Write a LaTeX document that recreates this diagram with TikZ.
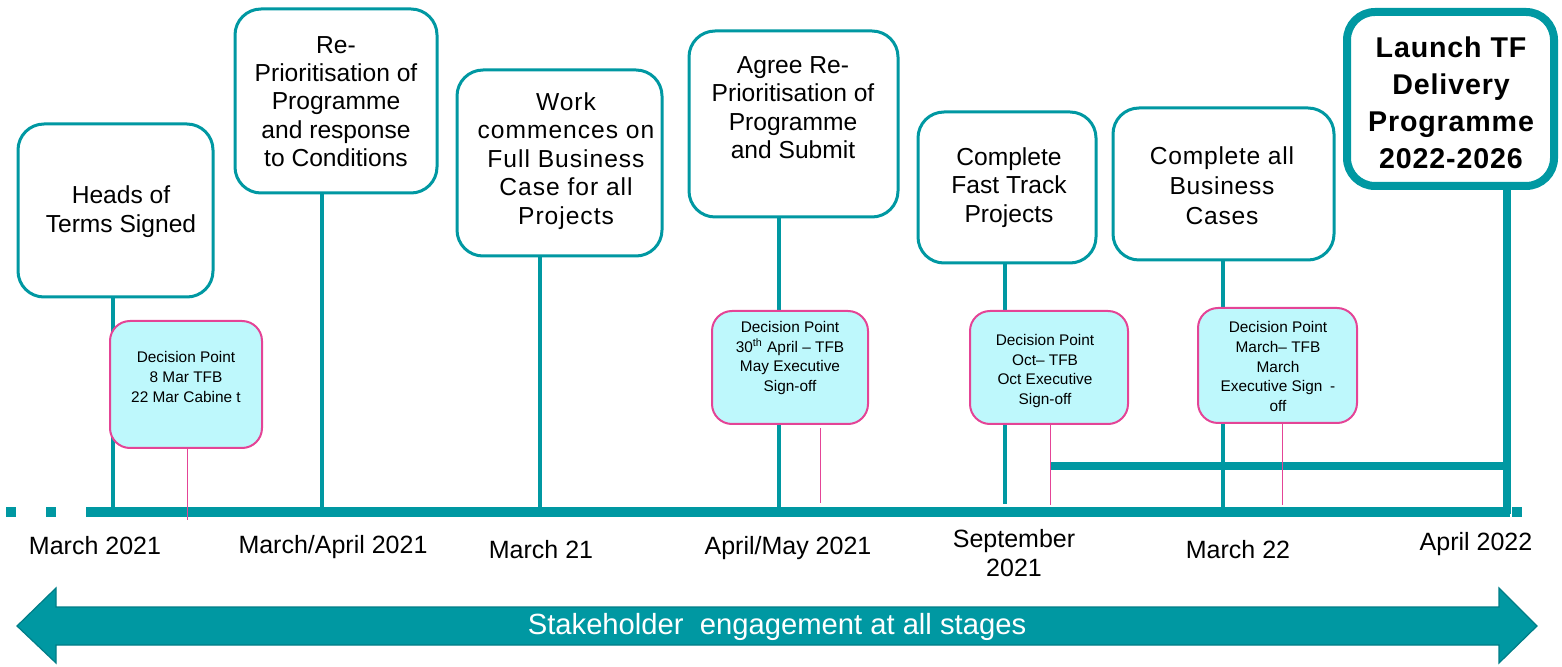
\documentclass[tikz,border=0pt]{standalone}
\usepackage{fontspec}
\setmainfont{Liberation Sans}
\definecolor{teal1}{RGB}{0,152,162}
\definecolor{tealdark}{RGB}{0,125,135}
\definecolor{pink1}{RGB}{228,68,150}
\definecolor{cyanfill}{RGB}{190,248,252}
\begin{document}
\begin{tikzpicture}[x=0.5pt,y=-0.5pt,
  tbox/.style={draw=teal1,line width=1.5pt,fill=white,rounded corners=13pt,inner sep=0pt},
  lbox/.style={draw=teal1,line width=4pt,fill=white,rounded corners=14pt,inner sep=0pt},
  dbox/.style={draw=pink1,line width=1pt,fill=cyanfill,rounded corners=10pt,inner sep=0pt},
  ttext/.style={align=center,font=\fontsize{12.3}{14.2}\selectfont,inner sep=0pt},
  ltext/.style={align=center,font=\fontsize{14.3}{18.5}\selectfont\bfseries\addfontfeature{LetterSpace=3}},
  dtext/.style={align=center,font=\fontsize{7.7}{9.9}\selectfont,inner sep=0pt},
  datel/.style={align=center,font=\fontsize{12.5}{14.8}\selectfont,inner sep=0pt},
  stem/.style={draw=teal1,line width=2pt},
  pinkline/.style={draw=pink1,line width=0.5pt},
]
\useasboundingbox (0,0) rectangle (1562,667);

% timeline
\coordinate (tl0) at (86,512);
\coordinate (tl1) at (1510,512);
\draw[teal1,line width=4.5pt] (tl0) -- (tl1);
\fill[teal1] (6,507.5) rectangle (16,516.5);
\fill[teal1] (46,507.5) rectangle (56,516.5);
\fill[teal1] (1512,507.5) rectangle (1522,516.5);

% stem end coordinates
\coordinate (e1) at (113,512);
\coordinate (e2) at (322,512);
\coordinate (e3) at (540,512);
\coordinate (e4) at (779,512);
\coordinate (e5) at (1005,504);
\coordinate (e6) at (1223,512);
\coordinate (e7) at (1507,514);
\coordinate (h0) at (1050,466);
\coordinate (h1) at (1507,466);

% boxes
\node[tbox,minimum width=97.5pt,minimum height=86.5pt] (b1) at (115.5,210.5) {};
\node[tbox,minimum width=101pt,minimum height=92pt] (b2) at (336,101) {};
\node[tbox,minimum width=102.5pt,minimum height=93pt] (b3) at (559.5,163) {};
\node[tbox,minimum width=104.5pt,minimum height=93pt] (b4) at (793.5,124) {};
\node[tbox,minimum width=89pt,minimum height=75.5pt] (b5) at (1007,187.5) {};
\node[tbox,minimum width=110.5pt,minimum height=76pt] (b6) at (1223.5,184) {};

% stems
\draw[stem] (b1.south -| e1) -- (e1);
\draw[stem] (b2.south -| e2) -- (e2);
\draw[stem] (b3.south -| e3) -- (e3);
\draw[stem] (b4.south -| e4) -- (e4);
\draw[stem] (b5.south -| e5) -- (e5);
\draw[stem] (b6.south -| e6) -- (e6);

% horizontal bar and launch stem
\draw[teal1,line width=4pt] (h0) -- (h1);
\node[lbox,minimum width=103.5pt,minimum height=87pt] (b7) at (1450.5,99) {};
\draw[teal1,line width=4pt] (b7.south -| e7) -- (e7);

% box texts
\node[ttext] (t1) at (121,211.5) {Heads of\\Terms Signed};
\node[ttext] (t2) at (336,101.5) {Re-\\Prioritisation of\\Programme\\and response\\to Conditions};
\node[ttext,font=\fontsize{12.3}{14.2}\selectfont\addfontfeature{LetterSpace=4}] (t3) at (566,161) {Work\\commences on\\Full Business\\Case for all\\Projects};
\node[ttext] (t4) at (793,107.5) {Agree Re-\\Prioritisation of\\Programme\\and Submit};
\node[ttext] (t5) at (1009,187.5) {Complete\\Fast Track\\Projects};
\node[ttext,font=\fontsize{12.3}{15}\selectfont\addfontfeature{LetterSpace=3}] (t6) at (1222,186) {Complete all\\Business\\Cases};
\node[ltext,inner sep=0pt] (t7) at (1451,102.5) {Launch TF\\Delivery\\Programme\\2022-2026};

% decision boxes
\node[dbox,minimum width=76pt,minimum height=63.5pt] (d1) at (186,384.5) {};
\node[dbox,minimum width=78pt,minimum height=56.5pt] (d2) at (790,367.5) {};
\node[dbox,minimum width=79pt,minimum height=56.5pt] (d3) at (1049,367.5) {};
\node[dbox,minimum width=79.5pt,minimum height=57.5pt] (d4) at (1277.5,365.5) {};
\node[dtext] (dt1) at (186,377) {Decision Point\\8 Mar TFB\\22 Mar Cabine t};
\node[dtext] (dt2) at (790,358) {Decision Point\\30\textsuperscript{th} April -- TFB\\May Executive\\Sign-off};
\node[dtext] (dt3) at (1045,371) {Decision Point\\Oct-- TFB\\Oct Executive\\Sign-off};
\node[dtext] (dt4) at (1278,366.5) {Decision Point\\March-- TFB\\March\\Executive Sign\enspace-\\off};

% pink lines
\coordinate (p1) at (187,520);
\coordinate (p2a) at (820,428);
\coordinate (p2b) at (820,503);
\coordinate (p3) at (1050.5,505);
\coordinate (p4a) at (1282.5,424);
\coordinate (p4b) at (1282.5,505);
\draw[pinkline] (d1.south -| p1) -- (p1);
\draw[pinkline] (p2a) -- (p2b);
\draw[pinkline] (d3.south -| p3) -- (p3);
\draw[pinkline] (p4a) -- (p4b);

% date labels
\node[datel] (l1) at (95,546) {March 2021};
\node[datel] (l2) at (333,547) {March/April 2021};
\node[datel] (l3) at (541,550) {March 21};
\node[datel] (l4) at (788,548) {April/May 2021};
\node[datel] (l5) at (1014,553) {September\\2021};
\node[datel] (l6) at (1238,550) {March 22};
\node[datel] (l7) at (1476,544) {April 2022};

% stakeholder arrow
\draw[fill=teal1,draw=tealdark,line width=0.6pt]
  (17,626) -- (56,588) -- (56,607) -- (1499,607) -- (1499,588) -- (1537,626)
  -- (1499,663) -- (1499,645) -- (56,645) -- (56,663) -- cycle;
\node[text=white,font=\fontsize{14.6}{17}\selectfont,inner sep=0pt] (sa) at (777,627) {Stakeholder\ \ engagement at all stages};
\end{tikzpicture}
\end{document}
